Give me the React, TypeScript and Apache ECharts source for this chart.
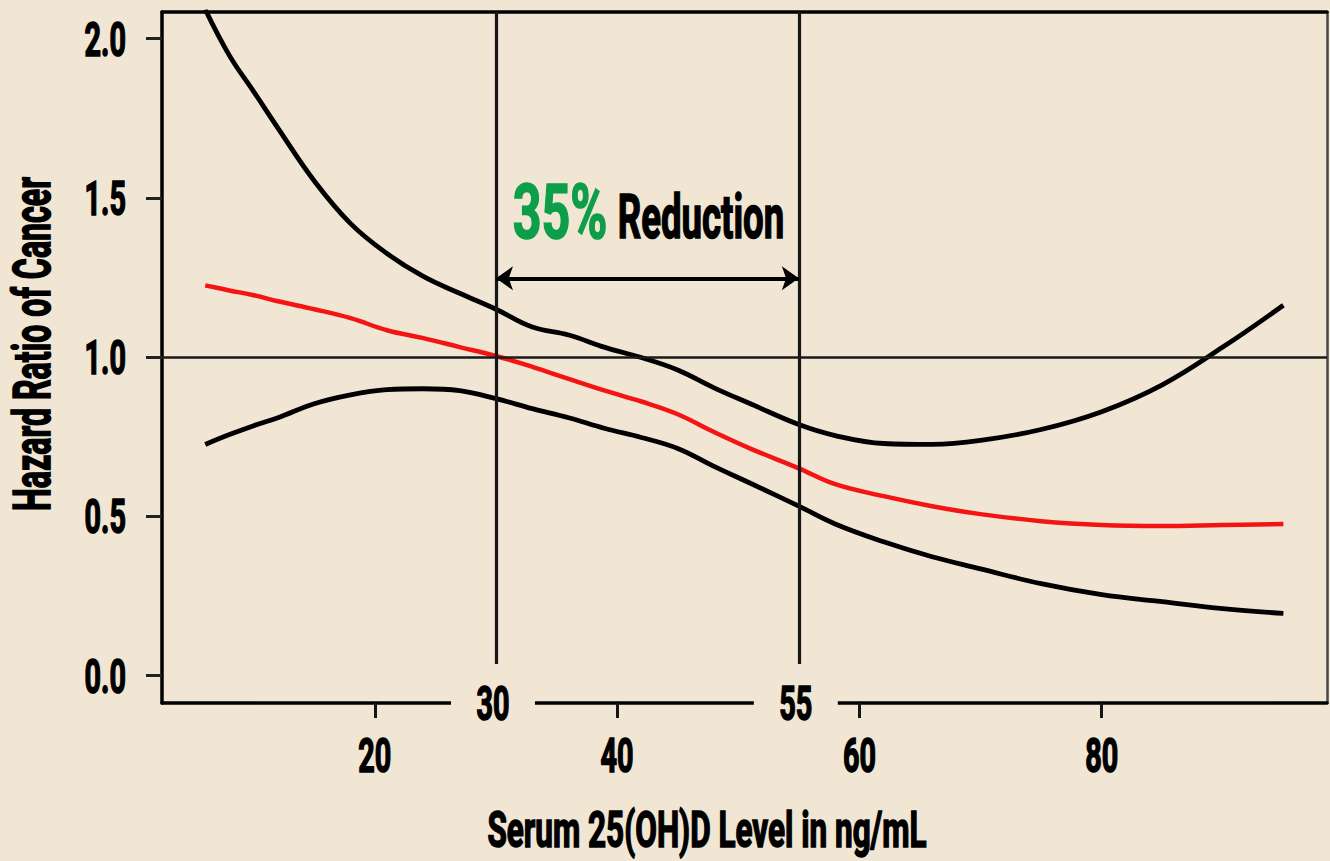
import React, { useEffect, useRef } from "react";
import * as echarts from "echarts";

// ---- data ----
const serumLevels = [6, 8, 10, 12, 15, 18, 21, 24, 27, 30, 33, 36, 39, 42, 45, 48, 51, 55, 58, 62, 66, 70, 75, 80, 85, 90, 95];
const hazardRatio = [1.225, 1.209, 1.194, 1.175, 1.15, 1.122, 1.084, 1.059, 1.031, 1.003, 0.969, 0.931, 0.894, 0.86, 0.82, 0.764, 0.712, 0.65, 0.6, 0.5625, 0.531, 0.506, 0.484, 0.472, 0.469, 0.472, 0.475];
const upperBound = [2.092, 1.947, 1.834, 1.719, 1.553, 1.419, 1.325, 1.253, 1.2, 1.15, 1.094, 1.069, 1.03, 0.998, 0.959, 0.903, 0.853, 0.7875, 0.753, 0.728, 0.725, 0.7375, 0.772, 0.828, 0.9125, 1.031, 1.1625];
const lowerBound = [0.725, 0.756, 0.784, 0.809, 0.853, 0.881, 0.897, 0.9, 0.894, 0.869, 0.8375, 0.809, 0.775, 0.747, 0.7125, 0.656, 0.603, 0.531, 0.475, 0.419, 0.372, 0.334, 0.2875, 0.253, 0.231, 0.209, 0.194];
const yTickValues = [0, 0.5, 1.0, 1.5, 2.0];
const xTickValues = [20, 40, 60, 80];
const markedLevels = [30, 55];
const referenceRatio = 1.0;
const arrowLevel = 1.247;
const reductionPercent = "35%";
const reductionWord = "Reduction";
const xTitle = "Serum 25(OH)D Level in ng/mL";
const yTitle = "Hazard Ratio of Cancer";

const X_MIN = 2.43;
const X_MAX = 98.6;
const Y_MIN = -0.0875;
const Y_MAX = 2.084;
const LINE_BOTTOM = 0.035;

const BG = "#f0e6d3";
const FONT = "Roboto, 'Liberation Sans', sans-serif";
const SQUEEZE = 0.6;

const txt = (text: string, x: number, y: number, size: number, opts: any = {}) => ({
  type: "text",
  x,
  y,
  scaleX: opts.scaleX ?? SQUEEZE,
  rotation: opts.rotation ?? 0,
  z: 100,
  silent: true,
  style: {
    text,
    font: `bold ${size}px ${FONT}`,
    fill: opts.fill ?? "#000",
    stroke: opts.fill ?? "#000",
    lineWidth: 1.6,
    align: opts.align ?? "center",
    verticalAlign: "middle",
  },
});

const frameAxis = (extra: any) => ({
  type: "value",
  axisTick: { show: false },
  axisLabel: { show: false },
  splitLine: { show: false },
  ...extra,
});

export default function App() {
  const ref = useRef<HTMLDivElement>(null);

  useEffect(() => {
    document.body.style.margin = "0";
    const chart = echarts.init(ref.current!, null, { renderer: "svg" });
    const pairs = (ys: number[]) => serumLevels.map((x, i) => [x, ys[i]]);

    const option: any = {
      animation: false,
      backgroundColor: BG,
      textStyle: { fontFamily: FONT },
      grid: { left: 162, right: 3, top: 12, bottom: 158, outerBoundsMode: "none", containLabel: false },
      xAxis: [
        frameAxis({
          min: X_MIN,
          max: X_MAX,
          position: "bottom",
          axisLine: { show: true, onZero: false, lineStyle: { color: "#000", width: 3.5 } },
          axisTick: { show: true, length: 15, lineStyle: { color: "#151515", width: 3 }, customValues: xTickValues },
        }),
        frameAxis({
          min: X_MIN,
          max: X_MAX,
          position: "top",
          axisLine: { show: true, onZero: false, lineStyle: { color: "#000", width: 3.5 } },
        }),
      ],
      yAxis: [
        frameAxis({
          min: Y_MIN,
          max: Y_MAX,
          position: "left",
          axisLine: { show: true, onZero: false, lineStyle: { color: "#000", width: 3.5 } },
          axisTick: { show: true, length: 16, lineStyle: { color: "#222", width: 3 }, customValues: yTickValues },
        }),
        frameAxis({
          min: Y_MIN,
          max: Y_MAX,
          position: "right",
          axisLine: { show: true, onZero: false, lineStyle: { color: "#4a4a4a", width: 2.5 } },
        }),
      ],
      series: [
        {
          type: "line",
          name: "Upper",
          data: pairs(upperBound),
          smooth: 0.4,
          showSymbol: false,
          clip: true,
          lineStyle: { color: "#000", width: 4.8 },
          z: 3,
        },
        {
          type: "line",
          name: "Lower",
          data: pairs(lowerBound),
          smooth: 0.4,
          showSymbol: false,
          clip: true,
          lineStyle: { color: "#000", width: 4.8 },
          z: 3,
        },
        {
          type: "line",
          name: "Hazard ratio",
          data: pairs(hazardRatio),
          smooth: 0.4,
          showSymbol: false,
          clip: true,
          lineStyle: { color: "#f41414", width: 4.5 },
          z: 4,
          markLine: {
            silent: true,
            symbol: "none",
            label: { show: false },
            lineStyle: { color: "#161616", width: 3.2, type: "solid" },
            data: [
              [
                { coord: [markedLevels[0], LINE_BOTTOM] },
                { coord: [markedLevels[0], Y_MAX] },
              ],
              [
                { coord: [markedLevels[1], LINE_BOTTOM] },
                { coord: [markedLevels[1], Y_MAX] },
              ],
              [
                { coord: [X_MIN, referenceRatio], lineStyle: { width: 2.5, color: "#1a1a1a" } },
                { coord: [X_MAX, referenceRatio] },
              ],
              [
                { coord: [markedLevels[0], arrowLevel], symbol: "arrow", symbolSize: [18, 17], lineStyle: { width: 4, color: "#000" } },
                { coord: [markedLevels[1], arrowLevel], symbol: "arrow", symbolSize: [18, 17] },
              ],
            ],
          },
        },
      ],
    };
    chart.setOption(option);

    // Labels are drawn as condensed text placed through the axes' own scales.
    const px = (v: number) => chart.convertToPixel({ xAxisIndex: 0 }, v) as number;
    const py = (v: number) => chart.convertToPixel({ yAxisIndex: 0 }, v) as number;
    const axisX = px(X_MIN);
    const axisY = py(Y_MIN);

    const graphics: any[] = [];
    yTickValues.forEach((v) => graphics.push(txt(v.toFixed(1), axisX - 36, py(v) + 1, 48, { align: "right" })));
    xTickValues.forEach((v) => graphics.push(txt(String(v), px(v), axisY + 53, 48)));
    markedLevels.forEach((v) => {
      graphics.push({
        type: "rect",
        z: 99,
        silent: true,
        shape: { x: px(v) - 45, y: axisY - 6, width: 84, height: 12 },
        style: { fill: BG },
      });
      graphics.push(txt(String(v), px(v) - 3, axisY + 1, 48));
    });
    graphics.push(txt(xTitle, 707, 830, 50, { scaleX: 0.63 }));
    graphics.push(txt(yTitle, 32, 344, 51, { scaleX: 0.63, rotation: Math.PI / 2 }));
    graphics.push(txt(reductionPercent, 560, 212, 76, { scaleX: 0.66, fill: "#0c9e48" }));
    graphics.push(txt(reductionWord, 701, 217, 62, { scaleX: 0.59 }));

    chart.setOption({ graphic: graphics });
    return () => chart.dispose();
  }, []);

  return <div ref={ref} style={{ width: 1330, height: 861, background: BG }} />;
}
